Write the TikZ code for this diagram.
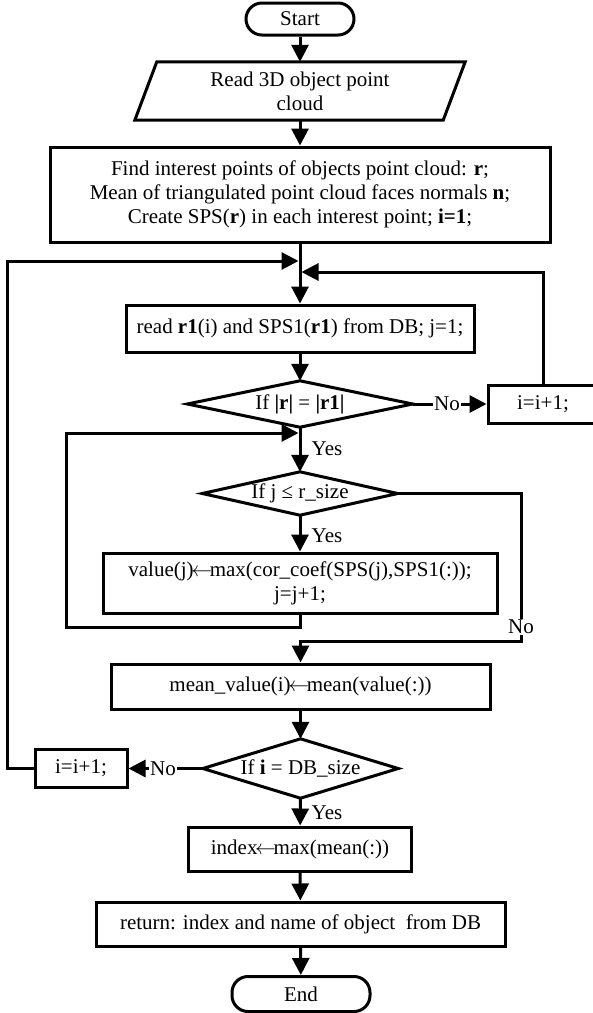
\documentclass[tikz,border=0pt]{standalone}
\usepackage{fontspec}
\setmainfont{Liberation Serif}
\usetikzlibrary{arrows.meta,calc}
\newcommand\dfont{\fontsize{21}{24}\selectfont}
\newcommand\larr{\ensuremath{\mkern-2mu\leftarrow\mkern-2mu}}
\begin{document}
\begin{tikzpicture}[x=1pt,y=-1pt,
  ln/.style={line width=3pt},
  arr/.style={ln,-{Triangle[length=17pt,width=17pt]}},
  box/.style={draw,line width=3pt,rectangle,inner sep=0pt,align=center,font=\dfont},
  term/.style={box,rounded corners=16pt},
  txt/.style={inner sep=0pt,align=center,font=\dfont},
  lab/.style={inner sep=1pt,font=\dfont,fill=white},
  ylab/.style={inner sep=0pt,font=\dfont}]
\useasboundingbox (0,0) rectangle (593,1013);
% nodes
\node[term,minimum width=108pt,minimum height=32pt] (start) at (300,19) {Start};
\node[txt,minimum width=330pt,minimum height=58pt] (rd) at (300,91) {Read 3D object point\\cloud};
\draw[ln] ($(rd.north west)+(22pt,0pt)$) -- (rd.north east) -- ($(rd.south east)+(-22pt,0pt)$) -- (rd.south west) -- cycle;
\node[box,minimum width=500pt,minimum height=95pt] (b3) at (300,194.5)
 {Find interest points of objects point cloud: \textbf{r};\\
  Mean of triangulated point cloud faces normals \textbf{n};\\
  Create SPS(\textbf{r}) in each interest point; \textbf{i=1};};
\node[box,minimum width=348pt,minimum height=47pt] (rb) at (300,328.5)
 {read \textbf{r1}(i) and SPS1(\textbf{r1}) from DB; j=1;};
\node[txt,minimum width=225pt,minimum height=46pt] (d1) at (300,404) {If \textbf{|r|} = \textbf{|r1|}};
\draw[ln] (d1.north) -- (d1.east) -- (d1.south) -- (d1.west) -- cycle;
\node[box,minimum width=110pt,minimum height=38pt] (i1) at (543,404) {i=i+1;};
\node[txt,minimum width=195pt,minimum height=43pt] (d2) at (300,493.5) {If j ≤ r\_size};
\draw[ln] (d2.north) -- (d2.east) -- (d2.south) -- (d2.west) -- cycle;
\node[box,minimum width=394pt,minimum height=60pt] (val) at (300,583)
 {value(j)\larr max(cor\_coef(SPS(j),SPS1(:));\\j=j+1;};
\node[box,minimum width=379pt,minimum height=45pt] (mean) at (300.5,686.5) {mean\_value(i)\larr mean(value(:))};
\node[txt,minimum width=195pt,minimum height=59pt] (d3) at (300.5,768.5) {If \textbf{i} = DB\_size};
\draw[ln] (d3.north) -- (d3.east) -- (d3.south) -- (d3.west) -- cycle;
\node[box,minimum width=92pt,minimum height=38pt] (i2) at (81,768.5) {i=i+1;};
\node[box,minimum width=223pt,minimum height=44pt] (idx) at (300,849) {index\larr max(mean(:))};
\node[box,minimum width=409pt,minimum height=44pt] (ret) at (300.5,924) {return: index and name of object\ \ from DB};
\node[term,minimum width=138pt,minimum height=35pt] (end) at (301,994) {End};
% coordinates
\coordinate (j1) at (298.5,261);
\coordinate (j2) at (301.5,272);
\coordinate (j3) at (298.5,433);
\coordinate (oL) at (7,261);
\coordinate (iL) at (66,627);
\coordinate (nR) at (521,641);
% connectors
\draw[arr] (start) -- (rd);
\draw[arr] (rd) -- (b3);
\draw[arr] (b3) -- (rb);
\draw[arr] (rb) -- (d1);
\draw[arr] (d1) -- (d2);
\draw[arr] (d2) -- (val);
\draw[arr] (mean) -- (d3);
\draw[arr] (d3) -- (idx);
\draw[arr] (idx) -- (ret);
\draw[arr] (ret) -- (end);
\draw[arr] (d1.east) -- (i1.west);
\draw[arr] (i1.north) |- (j2);
\draw[arr] (val.south) |- (iL) |- (j3);
\draw[arr] (d2.east) -| (nR) -| (mean.north);
\draw[arr] (d3.west) -- (i2.east);
\draw[arr] (i2.west) -| (oL) -- (j1);
% labels
\node[lab] (no1) at (447,404) {No};
\node[lab] (no2) at (521,627) {No};
\node[lab] (no3) at (163,768.5) {No};
\node[ylab] (y1) at (327,449) {Yes};
\node[ylab] (y2) at (327,536) {Yes};
\node[ylab] (y3) at (327,813) {Yes};
\end{tikzpicture}
\end{document}
